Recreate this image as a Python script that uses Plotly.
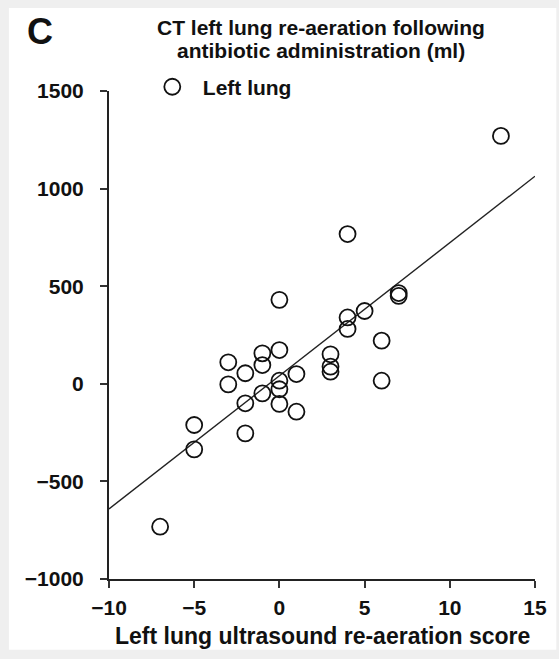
import numpy as np
import plotly.graph_objects as go

# Left lung: ultrasound re-aeration score vs CT re-aeration volume (ml)
us_score = [13, 4, 0, 7, 7, 5, 4, 4, 6, 6,
            -1, -1, 0, -2, -2, -1, 0, 0, 0, 1, 1, 3, 3, 3,
            -2, -3, -3, -5, -5, -7]
ct_volume = [1270, 767, 430, 465, 450, 373, 340, 281, 221, 16,
             156, 96, 173, 54, -100, -49, 16, -28, -103, 50, -143, 151, 88, 62,
             -254, 110, -3, -211, -336, -732]

x_ticks = [-10, -5, 0, 5, 10, 15]
y_ticks = [-1000, -500, 0, 500, 1000, 1500]
x_range = [-10, 15]
y_range = [-1000, 1500]

# least-squares regression line across the full x range
slope, intercept = np.polyfit(us_score, ct_volume, 1)
fit_x = np.array(x_range, dtype=float)
fit_y = intercept + slope * fit_x

FONT = "Liberation Sans"
INK = "#111111"

fig = go.Figure()
fig.add_trace(go.Scatter(
    x=fit_x, y=fit_y, mode="lines",
    line=dict(color="#222222", width=1.4),
    showlegend=False, hoverinfo="skip",
))
fig.add_trace(go.Scatter(
    x=us_score, y=ct_volume, mode="markers", name="<b>Left lung</b>",
    marker=dict(symbol="circle-open", size=16, color=INK,
                line=dict(width=1.8, color=INK)),
    cliponaxis=False,
))

axis_common = dict(
    showgrid=False, zeroline=False, showline=True,
    linecolor="#222222", linewidth=2,
    ticks="outside", ticklen=7, tickwidth=2, tickcolor="#333333",
    tickfont=dict(family=FONT, size=21, color=INK, weight="bold"),
)

fig.update_layout(
    width=559, height=659,
    margin=dict(l=109, r=15, t=91, b=80),
    paper_bgcolor="#efefef",
    plot_bgcolor="white",
    font=dict(family=FONT, color=INK),
    xaxis=dict(range=x_range, tickvals=x_ticks, ticklabelstandoff=2,
               **axis_common),
    yaxis=dict(range=y_range, tickvals=y_ticks, ticklabelstandoff=12,
               **axis_common),
    legend=dict(x=0.077, y=1.008, xanchor="left", yanchor="middle",
                itemwidth=51,
                bgcolor="rgba(0,0,0,0)",
                font=dict(family=FONT, size=21, color=INK)),
    shapes=[dict(type="rect", xref="paper", yref="paper",
                 x0=-0.235, x1=1.05, y0=-0.145, y1=1.17,
                 fillcolor="white", line=dict(width=0), layer="below")],
    annotations=[
        dict(text="<b>C</b>", xref="paper", yref="paper", x=-0.163, y=1.122,
             xanchor="center", yanchor="middle", showarrow=False,
             font=dict(family=FONT, size=36, color=INK)),
        dict(text="<b>CT left lung re-aeration following</b>",
             xref="paper", yref="paper", x=0.497, y=1.130,
             xanchor="center", yanchor="middle", showarrow=False,
             font=dict(family=FONT, size=21, color=INK)),
        dict(text="<b>antibiotic administration (ml)</b>",
             xref="paper", yref="paper", x=0.497, y=1.084,
             xanchor="center", yanchor="middle", showarrow=False,
             font=dict(family=FONT, size=21, color=INK)),
        dict(text="<b>Left lung ultrasound re-aeration score</b>",
             xref="paper", yref="paper", x=0.5, y=-0.117,
             xanchor="center", yanchor="middle", showarrow=False,
             font=dict(family=FONT, size=23, color=INK)),
    ],
)

fig.write_html("out.html")
